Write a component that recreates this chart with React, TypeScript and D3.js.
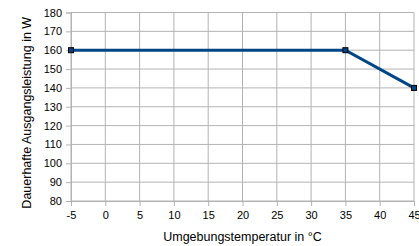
import React, { useEffect, useRef } from 'react';
import * as d3 from 'd3';

const temps = [-5, 35, 45];
const power = [160, 160, 140];
const xTicks = [-5, 0, 5, 10, 15, 20, 25, 30, 35, 40, 45];
const yTicks = [80, 90, 100, 110, 120, 130, 140, 150, 160, 170, 180];

const App = () => {
    const svgRef = useRef(null);

    useEffect(() => {
        const svg = d3.select(svgRef.current);
        svg.selectAll('*').remove();
        const left = 71, right = 414, top = 12.5, bottom = 201;
        const x = d3.scaleLinear().domain([-5, 45]).range([left, right]);
        const y = d3.scaleLinear().domain([80, 180]).range([bottom, top]);
        const font = 'Liberation Sans, Arial, sans-serif';

        // grid
        svg.append('g').selectAll('line').data(xTicks).enter().append('line')
            .attr('x1', d => x(d)).attr('x2', d => x(d))
            .attr('y1', top).attr('y2', bottom)
            .attr('stroke', '#b3b3b3').attr('stroke-width', 1);
        svg.append('g').selectAll('line').data(yTicks).enter().append('line')
            .attr('x1', left).attr('x2', right)
            .attr('y1', d => y(d)).attr('y2', d => y(d))
            .attr('stroke', '#b3b3b3').attr('stroke-width', 1);

        const xAxis = d3.axisBottom(x).tickValues(xTicks).tickSize(5).tickPadding(5).tickFormat(d => String(d));
        const yAxis = d3.axisLeft(y).tickValues(yTicks).tickSize(5).tickPadding(4).tickFormat(d => String(d));
        const gx = svg.append('g').attr('transform', `translate(0, ${bottom})`).call(xAxis);
        const gy = svg.append('g').attr('transform', `translate(${left}, 0)`).call(yAxis);
        [gx, gy].forEach(g => {
            g.select('.domain').attr('stroke', '#b3b3b3');
            g.selectAll('.tick line').attr('stroke', '#b3b3b3');
            g.selectAll('text').attr('font-family', font).attr('font-size', 11).attr('fill', '#000');
        });

        const pts = temps.map((t, i) => [t, power[i]]);
        svg.append('path')
            .datum(pts)
            .attr('d', d3.line().x(d => x(d[0])).y(d => y(d[1])))
            .attr('fill', 'none')
            .attr('stroke', '#004586')
            .attr('stroke-width', 3);
        svg.append('g').selectAll('rect').data(pts).enter().append('rect')
            .attr('x', d => x(d[0]) - 2.5).attr('y', d => y(d[1]) - 2.5)
            .attr('width', 5).attr('height', 5)
            .attr('fill', '#004586').attr('stroke', '#000').attr('stroke-width', 1);

        svg.append('text')
            .attr('x', (left + right) / 2).attr('y', 241)
            .attr('text-anchor', 'middle')
            .attr('font-family', font).attr('font-size', 12.5)
            .text('Umgebungstemperatur in °C');
        svg.append('text')
            .attr('transform', `translate(31, ${(top + bottom) / 2 + 6}) rotate(-90)`)
            .attr('text-anchor', 'middle')
            .attr('font-family', font).attr('font-size', 12.5)
            .text('Dauerhafte Ausgangsleistung in W');
    }, []);

    return (
        <svg ref={svgRef} width="419" height="246" style={{ position: 'absolute', left: 0, top: 0, background: '#fff' }}></svg>
    );
};

export default App;
